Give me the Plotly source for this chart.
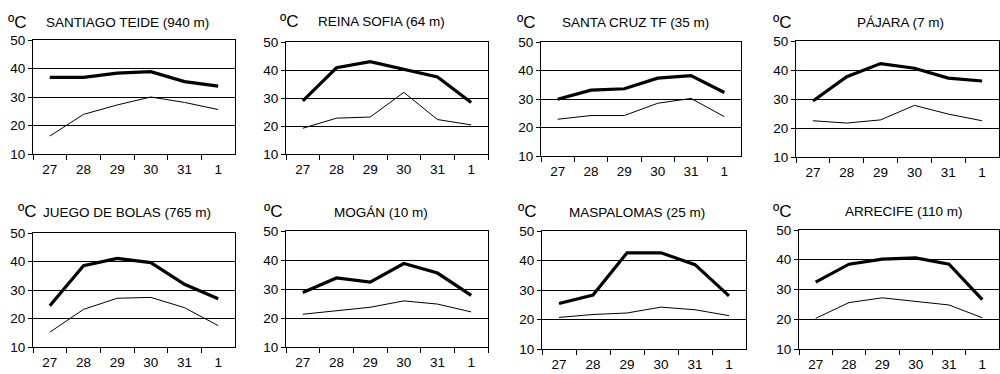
import plotly.graph_objects as go

days = ["27", "28", "29", "30", "31", "1"]
stations = ["SANTIAGO TEIDE (940 m)", "REINA SOFIA (64 m)", "SANTA CRUZ TF (35 m)", "PÁJARA (7 m)",
            "JUEGO DE BOLAS (765 m)", "MOGÁN (10 m)", "MASPALOMAS (25 m)", "ARRECIFE (110 m)"]

tmax_santiago = [36.9, 36.9, 38.4, 38.9, 35.4, 33.8]
tmin_santiago = [16.3, 23.9, 27.2, 30.0, 28.1, 25.6]
tmax_reina = [29.0, 40.8, 43.0, 40.2, 37.5, 28.4]
tmin_reina = [19.2, 22.8, 23.2, 32.0, 22.3, 20.4]
tmax_santacruz = [29.9, 33.1, 33.6, 37.3, 38.2, 32.3]
tmin_santacruz = [22.9, 24.2, 24.2, 28.5, 30.2, 23.8]
tmax_pajara = [29.3, 37.7, 42.2, 40.6, 37.2, 36.2]
tmin_pajara = [22.5, 21.7, 22.8, 27.8, 24.8, 22.5]
tmax_juego = [24.5, 38.5, 41.1, 39.6, 32.0, 26.9]
tmin_juego = [15.2, 23.2, 27.1, 27.4, 23.8, 17.5]
tmax_mogan = [28.8, 33.8, 32.4, 38.8, 35.5, 27.8]
tmin_mogan = [21.3, 22.6, 23.7, 25.9, 24.8, 22.1]
tmax_maspalomas = [25.4, 28.3, 42.6, 42.6, 38.6, 28.0]
tmin_maspalomas = [20.7, 21.7, 22.2, 24.2, 23.3, 21.3]
tmax_arrecife = [32.5, 38.5, 40.2, 40.6, 38.5, 26.6]
tmin_arrecife = [20.3, 25.6, 27.2, 26.1, 24.8, 20.5]

tmax_all = [tmax_santiago, tmax_reina, tmax_santacruz, tmax_pajara,
            tmax_juego, tmax_mogan, tmax_maspalomas, tmax_arrecife]
tmin_all = [tmin_santiago, tmin_reina, tmin_santacruz, tmin_pajara,
            tmin_juego, tmin_mogan, tmin_maspalomas, tmin_arrecife]

W, H = 1000, 374
# plot boxes in pixels: x0, x1, y_top, y_bottom
boxes = [(33, 235, 40, 154), (286, 488, 42, 154), (541, 741, 42, 156), (796, 999, 41, 157),
         (33, 235, 233, 347), (286, 488, 231, 347), (542, 746, 231, 349), (799, 999, 230, 349)]
unit_pos = [(17, 22), (289, 21), (526, 22), (782, 22), (27, 211), (273, 211), (527, 211), (782, 211)]
title_pos = [(127, 22), (381, 21), (635, 22), (900, 22), (127, 213), (381, 212), (637, 212), (904, 211)]

FONT = "Liberation Sans, Arial, sans-serif"
fig = go.Figure()
layout = {}
annotations = []
for i in range(8):
    n = i + 1
    xa = "x" if n == 1 else f"x{n}"
    ya = "y" if n == 1 else f"y{n}"
    x0, x1, yt, yb = boxes[i]
    fig.add_trace(go.Scatter(x=days, y=tmin_all[i], xaxis=xa, yaxis=ya, mode="lines",
                             line=dict(color="black", width=1), showlegend=False, hoverinfo="skip"))
    fig.add_trace(go.Scatter(x=days, y=tmax_all[i], xaxis=xa, yaxis=ya, mode="lines",
                             line=dict(color="black", width=3.2), showlegend=False, hoverinfo="skip"))
    kx = "xaxis" if n == 1 else f"xaxis{n}"
    ky = "yaxis" if n == 1 else f"yaxis{n}"
    layout[kx] = dict(domain=[x0 / W, x1 / W], anchor=ya, type="category", range=[-0.5, 5.5],
                      tickson="boundaries", ticks="outside", ticklen=5, tickcolor="black",
                      showline=True, linecolor="black", linewidth=1, mirror=True, automargin=False,
                      showgrid=False, zeroline=False, fixedrange=True, ticklabelstandoff=3,
                      tickfont=dict(family=FONT, size=13.5, color="black"))
    layout[ky] = dict(domain=[1 - yb / H, 1 - yt / H], anchor=xa, range=[10, 50],
                      tickvals=[10, 20, 30, 40, 50], ticks="outside", ticklen=4, tickcolor="black",
                      showline=True, linecolor="black", linewidth=1, mirror=True, automargin=False,
                      showgrid=True, gridcolor="black", gridwidth=1, zeroline=False, fixedrange=True,
                      tickfont=dict(family=FONT, size=13.5, color="black"))
    ux, uy = unit_pos[i]
    annotations.append(dict(text="ºC", x=ux / W, y=1 - uy / H, xref="paper", yref="paper",
                            showarrow=False, xanchor="center", yanchor="middle",
                            font=dict(family=FONT, size=17, color="black")))
    tx, ty = title_pos[i]
    annotations.append(dict(text=stations[i], x=tx / W, y=1 - ty / H, xref="paper", yref="paper",
                            showarrow=False, xanchor="center", yanchor="middle",
                            font=dict(family=FONT, size=13.5, color="black")))

fig.update_layout(**layout)
fig.update_layout(width=W, height=H, margin=dict(l=0, r=0, t=0, b=0, pad=0, autoexpand=False),
                  paper_bgcolor="white", plot_bgcolor="white", annotations=annotations,
                  showlegend=False)
post = ("document.documentElement.style.margin='0';document.documentElement.style.overflow='hidden';"
        "document.body.style.margin='0';document.body.style.overflow='hidden';"
        "var d=document.querySelector('.plotly-graph-div');"
        "d.style.position='fixed';d.style.left='0px';d.style.top='0px';")
fig.write_html("out.html", config={"displayModeBar": False}, post_script=post)
